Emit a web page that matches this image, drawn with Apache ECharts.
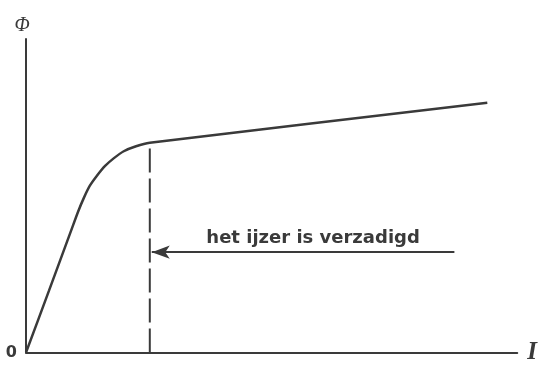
<!DOCTYPE html>
<html lang="nl">
<head>
    <meta charset="UTF-8">
    <title>Magnetisatiekromme</title>
    <script src="https://cdn.jsdelivr.net/npm/echarts@6/dist/echarts.min.js"></script>
    <style>
        html, body { margin: 0; padding: 0; background: #fff; }
        #main { width: 540px; height: 365px; }
    </style>
</head>
<body>
    <div id="main"></div>
    <script>
        // Magnetisatiekromme: flux (Φ) tegen stroom (I), in relatieve eenheden 0..100
        const curveI   = [0, 4.7, 9.35, 10.6, 11.8, 13.0, 14.4, 16.1, 17.9, 19.9, 22.4, 25.2, 93.9];
        const curvePhi = [0, 19.8, 39.6, 44.9, 49.4, 53.2, 56.3, 59.5, 62.0, 64.2, 65.8, 66.9, 79.7];

        // verzadigingspunt (knie van de kromme)
        const kneeI = 25.2;
        const kneePhi = 66.9;

        // pijl met tekst
        const arrowFromI = 87.2;
        const arrowToI = 25.6;
        const arrowPhi = 32.0;
        const arrowText = 'het ijzer is verzadigd';

        const ink = '#3a3a3a';

        const chart = echarts.init(document.getElementById('main'));
        chart.setOption({
            animation: false,
            grid: { left: 26, right: 22, top: 39, bottom: 10 },
            xAxis: {
                type: 'value', min: 0, max: 100,
                name: 'I', nameLocation: 'end', nameGap: 10,
                nameTextStyle: {
                    fontFamily: 'Liberation Serif', fontStyle: 'italic', fontWeight: 'bold',
                    fontSize: 25, color: ink, verticalAlign: 'middle'
                },
                axisLine: { lineStyle: { color: ink, width: 2 } },
                axisTick: { show: false },
                axisLabel: { show: false },
                splitLine: { show: false }
            },
            yAxis: {
                type: 'value', min: 0, max: 100,
                name: 'Φ', nameLocation: 'end', nameGap: 3,
                nameTextStyle: {
                    fontFamily: 'Liberation Serif', fontStyle: 'italic',
                    fontSize: 20, color: ink, padding: [0, 8, 0, 0]
                },
                axisLine: { show: true, lineStyle: { color: ink, width: 2 } },
                axisTick: { show: false },
                axisLabel: {
                    margin: 9,
                    fontFamily: 'DejaVu Sans', fontWeight: 'bold', fontSize: 16, color: ink,
                    formatter: v => (v === 0 ? '0' : ''),
                    padding: [12, 0, 0, 0]
                },
                splitLine: { show: false }
            },
            series: [
                {
                    type: 'line',
                    data: curveI.map((x, i) => [x, curvePhi[i]]),
                    smooth: 0.2,
                    symbol: 'none',
                    lineStyle: { color: ink, width: 2.5 },
                    markLine: {
                        silent: true,
                        symbol: ['none', 'arrow'],
                        symbolSize: [10, 18],
                        lineStyle: { color: ink, width: 2, type: 'solid' },
                        label: {
                            show: true,
                            position: 'middle',
                            distance: 5,
                            padding: [0, 0, 0, 20],
                            formatter: arrowText,
                            fontFamily: 'DejaVu Sans', fontWeight: 'bold',
                            fontSize: 18, color: ink
                        },
                        data: [[
                            { coord: [arrowFromI, arrowPhi] },
                            { coord: [arrowToI, arrowPhi] }
                        ]]
                    }
                },
                {
                    type: 'line',
                    data: [[kneeI, 0], [kneeI, kneePhi]],
                    symbol: 'none',
                    lineStyle: { color: ink, width: 2, type: [24, 6] }
                }
            ]
        });
    </script>
</body>
</html>
